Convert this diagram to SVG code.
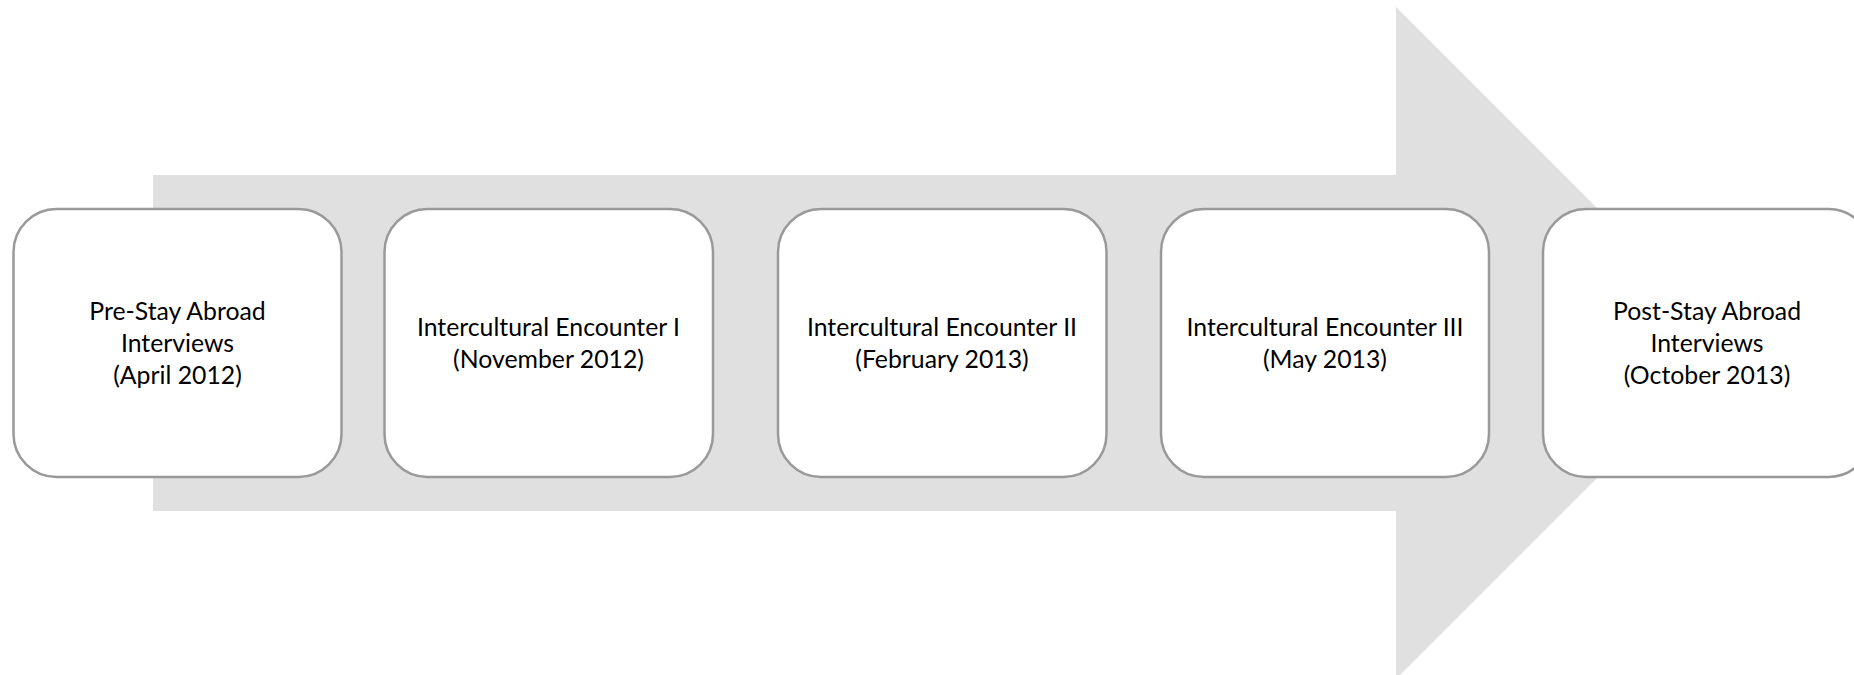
<svg xmlns="http://www.w3.org/2000/svg" width="1854" height="675" viewBox="0 0 1854 675">
<style>
.box{fill:#ffffff;stroke:#999999;stroke-width:2.5}
.lbl{font-family:Lato,"Liberation Sans",sans-serif;font-size:24.8px;fill:#000000;text-anchor:middle}
</style>
<rect width="1854" height="675" fill="#ffffff"/>
<g id="connectors">
<polygon points="153,175 1396,175 1396,7 1732,343 1396,679 1396,511 153,511" fill="#e0e0e0"/>
</g>
<g id="node1">
<rect class="box" x="13.5" y="209" width="328" height="268" rx="43" ry="43"/>
<text class="lbl" x="177.5" y="320">Pre-Stay Abroad</text>
<text class="lbl" x="177.5" y="352">Interviews</text>
<text class="lbl" x="177.5" y="384">(April 2012)</text>
</g>
<g id="node2">
<rect class="box" x="384.5" y="209" width="328.5" height="268" rx="43" ry="43"/>
<text class="lbl" x="548.5" y="336">Intercultural Encounter I</text>
<text class="lbl" x="548.5" y="368">(November 2012)</text>
</g>
<g id="node3">
<rect class="box" x="778" y="209" width="328.5" height="268" rx="43" ry="43"/>
<text class="lbl" x="942" y="336">Intercultural Encounter II</text>
<text class="lbl" x="942" y="368">(February 2013)</text>
</g>
<g id="node4">
<rect class="box" x="1161" y="209" width="328" height="268" rx="43" ry="43"/>
<text class="lbl" x="1325" y="336">Intercultural Encounter III</text>
<text class="lbl" x="1325" y="368">(May 2013)</text>
</g>
<g id="node5">
<rect class="box" x="1543" y="209" width="328.5" height="268" rx="43" ry="43"/>
<text class="lbl" x="1707" y="320">Post-Stay Abroad</text>
<text class="lbl" x="1707" y="352">Interviews</text>
<text class="lbl" x="1707" y="384">(October 2013)</text>
</g>
</svg>
